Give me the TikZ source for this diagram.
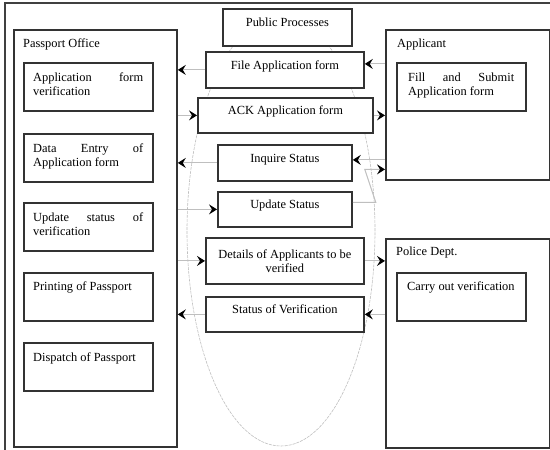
\documentclass[tikz,border=0pt]{standalone}
\usepackage{fontspec}
\setmainfont{Liberation Serif}
\usetikzlibrary{arrows.meta,positioning}
\newcommand\taskpar[2]{\parbox[t]{#1}{#2}}
\tikzset{
  unit/.style={draw=black!80, line width=1.8pt, anchor=north west, inner sep=0pt},
  unitlabel/.style={anchor=base west, inner sep=0pt},
  task/.style={draw=black!80, line width=1.8pt, anchor=north west,
    minimum width=129pt, minimum height=48pt, inner sep=0pt},
  tasktext/.style={anchor=base west, inner sep=0pt},
  proc/.style={draw=black!80, line width=1.8pt, fill=white, anchor=north west,
    align=center, inner sep=0pt},
  oneline/.style={text height=8pt, text depth=9pt},
  realm/.style={draw=gray!50, line width=0.6pt, dash pattern=on 3pt off 1pt},
  flow/.style={draw=gray!50, line width=1.1pt,
    -{Stealth[black, length=8pt, width=10pt, inset=3pt]}}
}

\begin{document}
\begin{tikzpicture}[x=1pt, y=-1pt, font=\fontsize{12.4}{14}\selectfont]
  \useasboundingbox (0,0) rectangle (550,450);
  \draw[line width=1.2pt, black!75] (5,450) -- (5,3) -- (550,3);

  % public process region
  \draw[realm] (281,231) ellipse [x radius=94pt, y radius=215pt];

  % the three offices
  \node[unit, minimum width=163pt, minimum height=417pt] (office) at (13,29) {};
  \node[unit, minimum width=164pt, minimum height=150pt] (applicant) at (385,29) {};
  \node[unit, minimum width=164pt, minimum height=209pt] (police) at (385,238) {};
  \node[unitlabel] (officeLbl) at (23,47) {Passport Office};
  \node[unitlabel] (applicantLbl) at (397,47) {Applicant};
  \node[unitlabel] (policeLbl) at (396,255) {Police Dept.};

  % tasks inside the offices
  \node[task] (verifyApp) at (23,62) {};
  \node[task] (dataEntry) at (23,133) {};
  \node[task] (updateVer) at (23,202) {};
  \node[task] (printing) at (23,272) {};
  \node[task] (dispatch) at (23,342) {};
  \node[task] (fillForm) at (396,62) {};
  \node[task] (carryOut) at (396,272) {};

  \node[tasktext] (verifyAppTxt) at ([shift={(10,19)}]verifyApp.north west)
    {\taskpar{110pt}{Application\hfill form\\verification}};
  \node[tasktext] (dataEntryTxt) at ([shift={(10,19)}]dataEntry.north west)
    {\taskpar{110pt}{Data\hfill Entry\hfill of\\Application form}};
  \node[tasktext] (updateVerTxt) at ([shift={(10,19)}]updateVer.north west)
    {\taskpar{110pt}{Update\hfill status\hfill of\\verification}};
  \node[tasktext] (printingTxt) at ([shift={(10,18)}]printing.north west)
    {Printing of Passport};
  \node[tasktext] (dispatchTxt) at ([shift={(10,19)}]dispatch.north west)
    {Dispatch of Passport};
  \node[tasktext] (fillFormTxt) at ([shift={(12,19)}]fillForm.north west)
    {\taskpar{106pt}{Fill\hfill and\hfill Submit\\Application form}};
  \node[tasktext] (carryOutTxt) at ([shift={(11,18)}]carryOut.north west)
    {Carry out verification};

  % public processes
  \node[proc, oneline, minimum width=129pt, minimum height=37pt] (public) at (222,8) {Public Processes};
  \node[proc, oneline, minimum width=158pt, minimum height=36pt] (fileForm) at (205,51) {File Application form};
  \node[proc, oneline, minimum width=175pt, minimum height=35pt] (ackForm) at (197,97) {ACK Application form};
  \node[proc, oneline, minimum width=134pt, minimum height=36pt] (inquire) at (217,144) {Inquire Status};
  \node[proc, oneline, minimum width=134pt, minimum height=35pt] (update) at (217,191) {Update Status};
  \node[proc, minimum width=158pt, minimum height=46pt] (details) at (205,237) {Details of Applicants to be\\verified};
  \node[proc, oneline, minimum width=158pt, minimum height=35pt] (status) at (205,296) {Status of Verification};

  % flows
  \coordinate (fileIn) at ([yshift=6pt]fileForm.east);
  \coordinate (updOut) at ([yshift=7pt]update.east);
  \draw[flow] (fileForm.west) -- (fileForm.west -| office.east);
  \draw[flow] (fileIn -| applicant.west) -- (fileIn);
  \draw[flow] (ackForm.west -| office.east) -- (ackForm.west);
  \draw[flow] (ackForm.east) -- (ackForm.east -| applicant.west);
  \draw[flow] (inquire.west) -- (inquire.west -| office.east);
  \draw[flow] ([yshift=3pt]inquire.east -| applicant.west) -- ([yshift=3pt]inquire.east);
  \draw[flow] (updOut) -- ++(23,0) -- ++(-11,-33) coordinate (bend) -- (bend -| applicant.west);
  \draw[flow] (update.west -| office.east) -- (update.west);
  \draw[flow] (details.west -| office.east) -- (details.west);
  \draw[flow] (details.east) -- (details.east -| police.west);
  \draw[flow] (status.west) -- (status.west -| office.east);
  \draw[flow] (status.east -| police.west) -- (status.east);
\end{tikzpicture}
\end{document}
